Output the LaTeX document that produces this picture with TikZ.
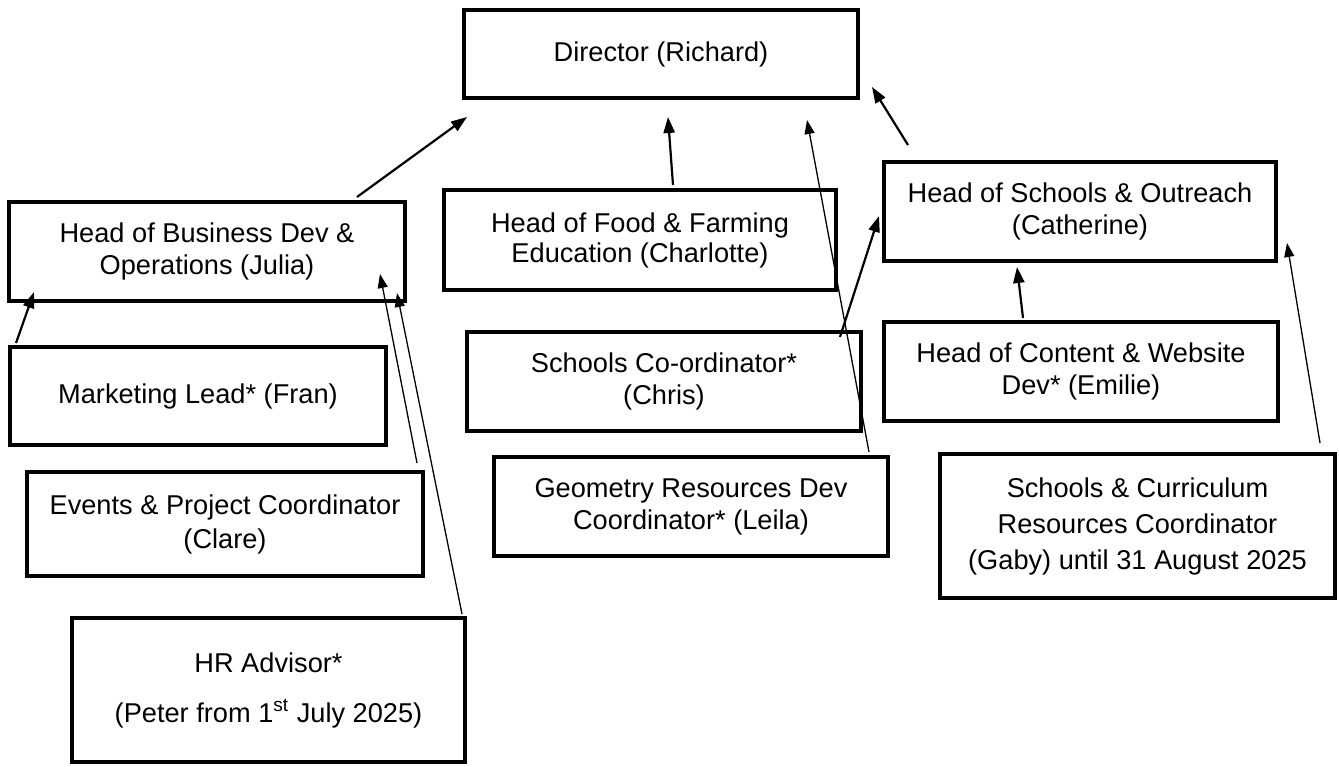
\documentclass[tikz,border=0pt]{standalone}
\usepackage{fontspec}
\setmainfont{Liberation Sans}
\usetikzlibrary{arrows.meta,calc}
\begin{document}
\begin{tikzpicture}[x=0.5pt,y=-0.5pt,
  box/.style={draw, line width=2.3pt, rectangle, inner sep=0pt, align=center,
              font=\fontsize{13.6}{16}\selectfont},
  arr/.style={line width=1.1pt, -{Triangle[length=8pt,width=5.6pt]}},
  thinarr/.style={line width=0.65pt, -{Triangle[length=7pt,width=5pt]}}]
\useasboundingbox (0,0) rectangle (1339,766);

% boxes
\node[box, minimum width=197pt, minimum height=44pt] (dir) at (661,54) {Director (Richard)};
\node[box, minimum width=198pt, minimum height=49.5pt] (julia) at (207,251.5)
  {Head of Business Dev \&\\Operations (Julia)};
\node[box, minimum width=188pt, minimum height=49pt] (fran) at (198,396)
  {Marketing Lead* (Fran)};
\node[box, minimum width=198pt, minimum height=52pt, font=\fontsize{13.6}{17}\selectfont] (events) at (225,524)
  {Events \& Project Coordinator\\(Clare)};
\node[box, minimum width=196.5pt, minimum height=72pt] (hr) at (268.5,690)
  {HR Advisor*\\[9pt](Peter from 1\textsuperscript{st} July 2025)};
\node[box, minimum width=196pt, minimum height=50pt, font=\fontsize{13.6}{15}\selectfont] (charlotte) at (640,240)
  {Head of Food \& Farming\\Education (Charlotte)};
\node[box, minimum width=197pt, minimum height=49.5pt] (chris) at (664,381.5)
  {Schools Co-ordinator*\\(Chris)};
\node[box, minimum width=197pt, minimum height=49.5pt] (leila) at (691,506.5)
  {Geometry Resources Dev\\Coordinator* (Leila)};
\node[box, minimum width=196pt, minimum height=49.5pt] (cath) at (1080,211.5)
  {Head of Schools \& Outreach\\(Catherine)};
\node[box, minimum width=197pt, minimum height=49.5pt] (emilie) at (1081,371.5)
  {Head of Content \& Website\\Dev* (Emilie)};
\node[box, minimum width=197.5pt, minimum height=72pt, font=\fontsize{13.6}{18}\selectfont] (gaby) at (1137.5,526)
  {Schools \& Curriculum\\Resources Coordinator\\(Gaby) until 31 August 2025};

% connectors to Director
\draw[arr] ([shift={(150,-54.5)}]julia.center) -- ([shift={(-194,63)}]dir.center);
\draw[arr] ([shift={(33,-55)}]charlotte.center) -- ([shift={(7,63)}]dir.center);
\draw[thinarr] ([shift={(178,-54.5)}]leila.center) -- ([shift={(146,66)}]dir.center);
\draw[arr] ([shift={(-172,-66.5)}]cath.center) -- ([shift={(211,33)}]dir.center);

% connectors to Catherine
\draw[arr] ([shift={(176,-44.5)}]chris.center) -- ([shift={(-201,4.5)}]cath.center);
\draw[arr] ([shift={(-58,-53.5)}]emilie.center) -- ([shift={(-63,55.5)}]cath.center);
\draw[thinarr] ([shift={(182.5,-83)}]gaby.center) -- ([shift={(207,31.5)}]cath.center);

% connectors to Julia
\draw[arr] ([shift={(-182,-53)}]fran.center) -- ([shift={(-173,40.5)}]julia.center);
\draw[thinarr] ([shift={(192,-61)}]events.center) -- ([shift={(173,22.5)}]julia.center);
\draw[thinarr] ([shift={(193.5,-76)}]hr.center) -- ([shift={(190,41.5)}]julia.center);
\end{tikzpicture}
\end{document}
